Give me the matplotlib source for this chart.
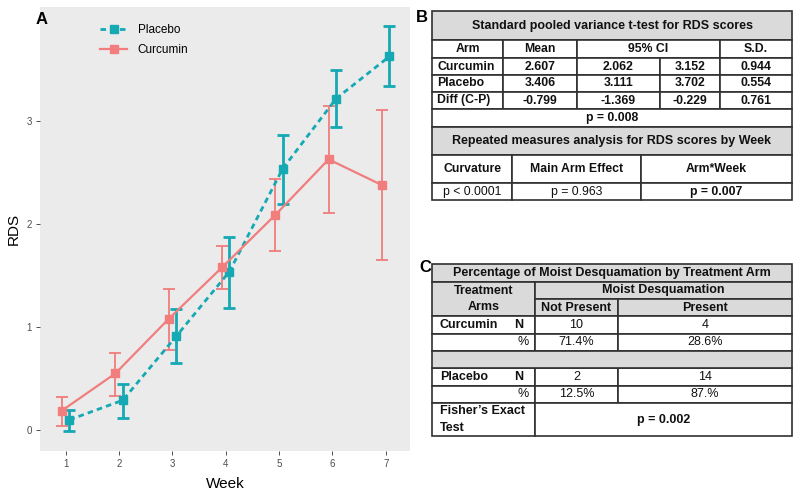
import matplotlib
matplotlib.use('Agg')
import matplotlib.pyplot as plt
from matplotlib.patches import Rectangle

plt.rcParams['font.family'] = ['Liberation Sans', 'DejaVu Sans']

# ---- panel A data (RDS by week, mean with 95% CI) ----
weeks = [1, 2, 3, 4, 5, 6, 7]
curc_mean = [0.19, 0.55, 1.08, 1.58, 2.09, 2.63, 2.38]
curc_lo = [0.04, 0.33, 0.78, 1.375, 1.74, 2.11, 1.65]
curc_hi = [0.32, 0.75, 1.37, 1.79, 2.44, 3.15, 3.11]
plac_mean = [0.10, 0.29, 0.91, 1.54, 2.54, 3.22, 3.63]
plac_lo = [-0.01, 0.12, 0.65, 1.19, 2.20, 2.94, 3.34]
plac_hi = [0.20, 0.45, 1.18, 1.88, 2.87, 3.50, 3.93]

# ---- panel B data ----
tb_title1 = 'Standard pooled variance t-test for RDS scores'
tb_head = ['Arm', 'Mean', '95% CI', 'S.D.']
tb_rows = [['Curcumin', '2.607', '2.062', '3.152', '0.944'],
           ['Placebo', '3.406', '3.111', '3.702', '0.554'],
           ['Diff (C-P)', '-0.799', '-1.369', '-0.229', '0.761']]
tb_p = 'p = 0.008'
tb_title2 = 'Repeated measures analysis for RDS scores by Week'
tb_head2 = ['Curvature', 'Main Arm Effect', 'Arm*Week']
tb_vals2 = ['p < 0.0001', 'p = 0.963', 'p = 0.007']

# ---- panel C data ----
tc_title = 'Percentage of Moist Desquamation by Treatment Arm'
tc_arms = ['Curcumin', 'Placebo']
tc_n = [['10', '4'], ['2', '14']]
tc_pct = [['71.4%', '28.6%'], ['12.5%', '87.%']]
tc_p = 'p = 0.002'

red = '#F17D7D'
teal = '#14A9B3'
W, H = 800, 497
fig = plt.figure(figsize=(8, 4.97), dpi=100)

# ---------------- panel A ----------------
ax = fig.add_axes([40 / W, 1 - 450.7 / H, 370 / W, 443.7 / H])
ax.set_facecolor('#EBEBEB')
for s in ax.spines.values():
    s.set_visible(False)
dx = 0.07
xc = [w - dx for w in weeks]
xp = [w + dx for w in weeks]
ax.errorbar(xc, curc_mean,
            yerr=[[m - l for m, l in zip(curc_mean, curc_lo)],
                  [h - m for m, h in zip(curc_mean, curc_hi)]],
            fmt='none', ecolor=red, elinewidth=1.3, capsize=4, capthick=1.3)
ax.errorbar(xp, plac_mean,
            yerr=[[m - l for m, l in zip(plac_mean, plac_lo)],
                  [h - m for m, h in zip(plac_mean, plac_hi)]],
            fmt='none', ecolor=teal, elinewidth=2, capsize=4, capthick=2)
ax.plot(xp, plac_mean, color=teal, ls=(0, (2, 1.5)), lw=2, marker='s', ms=6,
        label='Placebo')
ax.plot(xc, curc_mean, color=red, ls='-', lw=1.6, marker='s', ms=6,
        label='Curcumin')
ax.set_xlim(0.518, 7.456)
ax.set_ylim(-0.2, 4.11)
ax.set_xticks(weeks)
ax.set_yticks([0, 1, 2, 3])
ax.tick_params(length=3, width=0.6, color='#333333', labelcolor='#4D4D4D',
               labelsize=7, pad=3)
ax.set_xlabel('Week', fontsize=11, labelpad=6)
ax.set_ylabel('RDS', fontsize=11, labelpad=4)
ax.legend(loc='upper left', bbox_to_anchor=(0.162, 0.962), frameon=False,
          fontsize=8.5, handlelength=2.3, handletextpad=0.9, labelspacing=0.7,
          borderpad=0, borderaxespad=0)

# ---------------- overlay for tables ----------------
ov = fig.add_axes([0, 0, 1, 1], facecolor='none')
ov.set_xlim(0, W)
ov.set_ylim(H, 0)
ov.axis('off')
edge = '#303030'
gray = '#DADADA'


def cell(x0, y0, x1, y1, fill='white'):
    ov.add_patch(Rectangle((x0, y0), x1 - x0, y1 - y0, facecolor=fill,
                           edgecolor=edge, lw=1.2))


def put(x, y, s, size=8.8, bold=True, ha='center'):
    ov.text(x, y, s, fontsize=size, ha=ha, va='center', linespacing=1.45,
            fontweight='bold' if bold else 'normal', color='#111111')


ov.text(42, 19, 'A', fontsize=12, fontweight='bold', ha='center', va='center')
ov.text(422, 18, 'B', fontsize=12, fontweight='bold', ha='center', va='center')
ov.text(425, 268, 'C', fontsize=12, fontweight='bold', ha='center', va='center')

# ---------------- panel B ----------------
cb = [432, 503, 577, 660, 720, 792]
rb = [11, 40, 58, 75, 92, 109, 126.7, 155, 183, 200]
cb2 = [432, 512, 641, 792]

cell(cb[0], rb[0], cb[-1], rb[1], gray)
put((cb[0] + cb[-1]) / 2, (rb[0] + rb[1]) / 2, tb_title1, size=9)
# header
hspan = [(0, 1), (1, 2), (2, 4), (4, 5)]
for (a, b), t in zip(hspan, tb_head):
    cell(cb[a], rb[1], cb[b], rb[2])
    put((cb[a] + cb[b]) / 2, (rb[1] + rb[2]) / 2, t)
for i, row in enumerate(tb_rows):
    y0, y1 = rb[2 + i], rb[3 + i]
    for j, t in enumerate(row):
        cell(cb[j], y0, cb[j + 1], y1)
        if j == 0:
            put(cb[0] + 5, (y0 + y1) / 2, t, ha='left')
        else:
            put((cb[j] + cb[j + 1]) / 2, (y0 + y1) / 2, t)
cell(cb[0], rb[5], cb[-1], rb[6])
put((cb[0] + cb[-1]) / 2, (rb[5] + rb[6]) / 2, tb_p)
cell(cb[0], rb[6], cb[-1], rb[7], gray)
put((cb[0] + cb[-1]) / 2, (rb[6] + rb[7]) / 2, tb_title2, size=9)
for j in range(3):
    cell(cb2[j], rb[7], cb2[j + 1], rb[8])
    put((cb2[j] + cb2[j + 1]) / 2, (rb[7] + rb[8]) / 2, tb_head2[j])
    cell(cb2[j], rb[8], cb2[j + 1], rb[9])
    put((cb2[j] + cb2[j + 1]) / 2, (rb[8] + rb[9]) / 2, tb_vals2[j],
        bold=(j == 2))

# ---------------- panel C ----------------
cc = [432, 535, 618, 792]
rc = [264.3, 281.7, 299, 316.3, 333.7, 351, 368.3, 385.7, 403, 436]
fs = 9

cell(cc[0], rc[0], cc[3], rc[1], gray)
put((cc[0] + cc[3]) / 2, (rc[0] + rc[1]) / 2, tc_title, size=fs)
cell(cc[0], rc[1], cc[1], rc[3], gray)
put((cc[0] + cc[1]) / 2, (rc[1] + rc[3]) / 2, 'Treatment\nArms', size=fs)
cell(cc[1], rc[1], cc[3], rc[2], gray)
put((cc[1] + cc[3]) / 2, (rc[1] + rc[2]) / 2, 'Moist Desquamation', size=fs)
cell(cc[1], rc[2], cc[2], rc[3], gray)
put((cc[1] + cc[2]) / 2, (rc[2] + rc[3]) / 2, 'Not Present', size=fs)
cell(cc[2], rc[2], cc[3], rc[3], gray)
put((cc[2] + cc[3]) / 2, (rc[2] + rc[3]) / 2, 'Present', size=fs)

for k, arm in enumerate(tc_arms):
    base = 3 if k == 0 else 6
    yN0, yN1, yP1 = rc[base], rc[base + 1], rc[base + 2]
    for j in range(3):
        cell(cc[j], yN0, cc[j + 1], yN1)
        cell(cc[j], yN1, cc[j + 1], yP1)
    put(cc[0] + 8, (yN0 + yN1) / 2, arm, size=fs, ha='left')
    put(519, (yN0 + yN1) / 2, 'N', size=fs)
    put(523, (yN1 + yP1) / 2, '%', size=fs, bold=False)
    for j in range(2):
        put((cc[j + 1] + cc[j + 2]) / 2, (yN0 + yN1) / 2, tc_n[k][j],
            size=fs, bold=False)
        put((cc[j + 1] + cc[j + 2]) / 2, (yN1 + yP1) / 2, tc_pct[k][j],
            size=fs, bold=False)
cell(cc[0], rc[5], cc[3], rc[6], gray)
cell(cc[0], rc[8], cc[1], rc[9])
put(cc[0] + 8, (rc[8] + rc[9]) / 2, 'Fisher\u2019s Exact\nTest', size=fs,
    ha='left')
cell(cc[1], rc[8], cc[3], rc[9])
put((cc[1] + cc[3]) / 2, (rc[8] + rc[9]) / 2, tc_p, size=fs)

fig.savefig('out.png', dpi=100)
